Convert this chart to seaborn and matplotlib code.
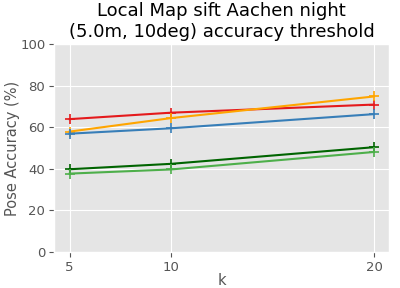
import matplotlib
matplotlib.use("Agg")
import matplotlib.pyplot as plt
import seaborn as sns
import pandas as pd

k = [5, 10, 20]
red = [63.9, 67.0, 70.9]
orange = [57.9, 64.4, 74.8]
blue = [56.9, 59.5, 66.3]
dark_green = [39.8, 42.4, 50.4]
light_green = [37.7, 39.7, 48.1]

series = {"red": red, "orange": orange, "blue": blue,
          "dark_green": dark_green, "light_green": light_green}
colors = {"red": "#e41a1c", "orange": "orange", "blue": "#377eb8",
          "dark_green": "darkgreen", "light_green": "#4daf4a"}

rows = []
for name, vals in series.items():
    for kk, v in zip(k, vals):
        rows.append({"k": kk, "acc": v, "method": name})
df = pd.DataFrame(rows)

plt.style.use("ggplot")
fig, ax = plt.subplots(figsize=(4, 2.88), dpi=100)
for name in series:
    sub = df[df["method"] == name]
    sns.lineplot(data=sub, x="k", y="acc", color=colors[name], marker="+",
                 markersize=7, markeredgewidth=1.2, markeredgecolor=colors[name],
                 linewidth=1.5, ax=ax)
ax.set_ylim(0, 100)
ax.set_xlim(4.25, 20.75)
ax.set_xticks(k)
ax.tick_params(labelsize=9.5, pad=3)
ax.set_xlabel("k", fontsize=10.5, labelpad=-1)
ax.set_ylabel("Pose Accuracy (%)", fontsize=10.5, labelpad=0)
ax.set_title("Local Map sift Aachen night\n(5.0m, 10deg) accuracy threshold", fontsize=13, pad=5)
fig.subplots_adjust(left=0.136, right=0.973, top=0.847, bottom=0.125)
plt.savefig("out.png", dpi=100)
